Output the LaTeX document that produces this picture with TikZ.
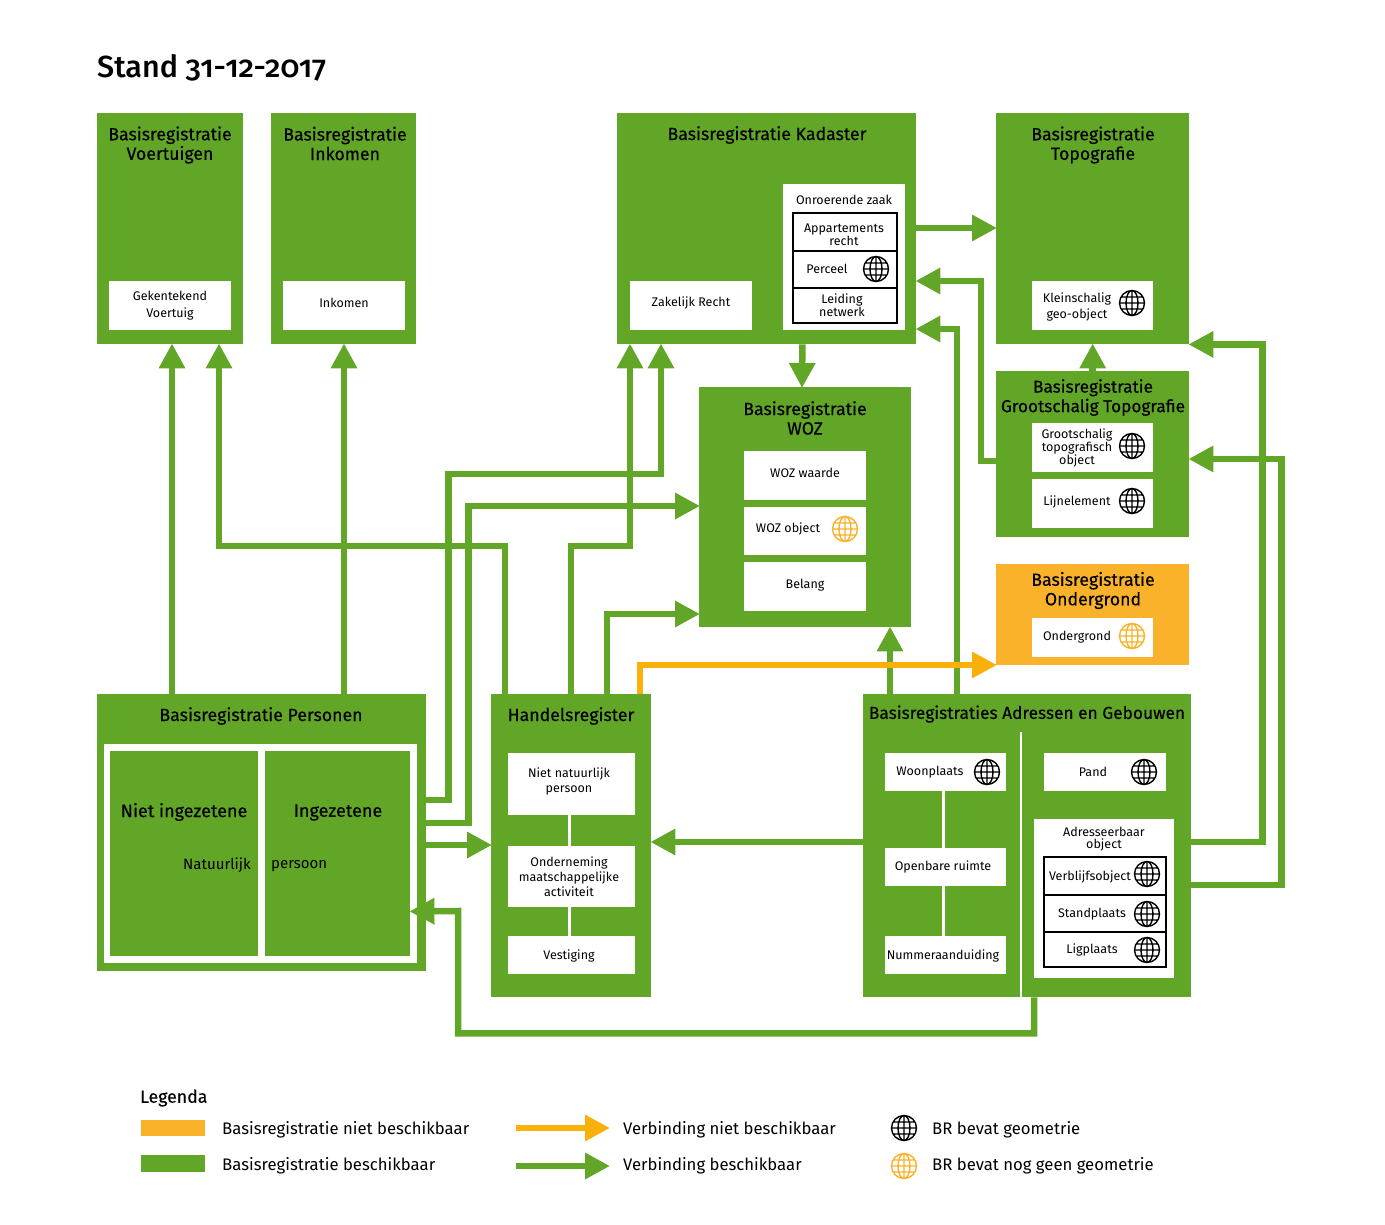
\documentclass[tikz,border=0pt]{standalone}
\usepackage{fontspec}
\setmainfont{Fira Sans}
\newfontfamily\titlefont[Numbers=OldStyle]{Fira Sans Medium}
\usetikzlibrary{arrows.meta}
\definecolor{brgreen}{RGB}{98,166,39}
\definecolor{brorange}{RGB}{249,178,42}
\definecolor{linkorange}{RGB}{250,176,10}
\tikzset{
  regbox/.style 2 args={fill=brgreen, anchor=north west, inner sep=0pt, minimum width=#1, minimum height=#2},
  whitebox/.style 2 args={fill=white, anchor=north west, inner sep=0pt, minimum width=#1, minimum height=#2},
  cellbox/.style 2 args={draw=black, line width=1.6pt, fill=white, anchor=north west, inner sep=0pt, outer sep=0pt, minimum width=#1, minimum height=#2},
  regtitle/.style={font=\fontsize{#1}{19.5}\selectfont\addfontfeature{FakeBold=0.3}, align=center, inner sep=0pt, yshift=-1pt},
  regtitle/.default=17.7,
  celltext/.style={font=\fontsize{12.5}{#1}\selectfont, align=center, inner sep=0pt, yshift=-1pt},
  celltext/.default=13,
  legendtext/.style={font=\fontsize{16.7}{20}\selectfont, anchor=west, inner sep=0pt, yshift=-2pt},
  link/.style={draw=brgreen, line width=6.5pt, shorten >=-1pt, -{Triangle[length=25pt,width=25pt]}},
  orangelink/.style={draw=linkorange, line width=6.5pt, shorten >=-1pt, -{Triangle[length=25pt,width=25pt]}},
  whiteline/.style={draw=white, line width=3pt},
  globe/.pic={
    \draw[line width=1.4pt, draw=#1] (0,0) circle (12.5) (0,0) ellipse (6 and 12.5)
      (0,-12.5) -- (0,12.5) (-12.5,0) -- (12.5,0) (-11,-6) -- (11,-6) (-11,6) -- (11,6);
  },
  globe/.default=black
}
\begin{document}
\begin{tikzpicture}[x=1pt,y=-1pt]
  \useasboundingbox (0,0) rectangle (1385,1225);
  \node[anchor=west, inner sep=0pt, font=\fontsize{30.5}{36}\selectfont\titlefont] (title) at (97,68) {Stand 31-12-2017};

  \node[regbox={146}{231}] (voertuigen) at (97,113) {};
  \node[regtitle] (voertuigentitle) at (170,144) {Basisregistratie\\Voertuigen};
  \node[whitebox={122}{49}] (kenteken) at (109,281) {};
  \node[celltext=17] (kentekentext) at (170,305) {Gekentekend\\Voertuig};

  \node[regbox={145}{231}] (inkomen) at (271,113) {};
  \node[regtitle] (inkomentitle) at (345,142.5) {Basisregistratie\\Inkomen};
  \node[whitebox={122}{49}] (inkomenbox) at (283,281) {};
  \node[celltext] (inkomentext) at (344,302) {Inkomen};

  \node[regbox={299}{231}] (kadaster) at (617,113) {};
  \node[regtitle] (kadastertitle) at (767,134) {Basisregistratie Kadaster};
  \node[whitebox={122}{49}] (recht) at (630,281) {};
  \node[celltext] (rechttext) at (691,302) {Zakelijk Recht};
  \node[whitebox={122}{146}] (onroerend) at (783,184) {};
  \node[celltext] (onroerendtext) at (844,199) {Onroerende zaak};
  \node[cellbox={104}{38}] (appartement) at (793,213) {};
  \node[celltext=12] (appartementtext) at (844,234) {Appartements\\recht};
  \node[cellbox={104}{37}] (perceel) at (793,251) {};
  \node[celltext] (perceeltext) at (827,268) {Perceel};
  \pic at (876,269) {globe};
  \node[cellbox={104}{35}] (leiding) at (793,288) {};
  \node[celltext=12] (leidingtext) at (842,304) {Leiding\\netwerk};

  \node[regbox={193}{231}] (topografie) at (996,113) {};
  \node[regtitle] (topografietitle) at (1093,144) {Basisregistratie\\Topografie};
  \node[whitebox={121}{49}] (klein) at (1032,281) {};
  \node[celltext=16] (kleintext) at (1077,306) {Kleinschalig\\geo-object};
  \pic at (1132,303) {globe};

  \node[regbox={193}{166}] (groot) at (996,371) {};
  \node[regtitle=17.2] (groottitle) at (1093,396.5) {Basisregistratie\\Grootschalig Topografie};
  \node[whitebox={121}{49}] (grootobject) at (1032,423) {};
  \node[celltext=13] (grootobjecttext) at (1077,447) {Grootschalig\\topografisch\\object};
  \pic at (1132,446) {globe};
  \node[whitebox={121}{49}] (lijn) at (1032,479) {};
  \node[celltext] (lijntext) at (1077,501) {Lijnelement};
  \pic at (1132,501) {globe};

  \node[regbox={212}{240}] (woz) at (699,387) {};
  \node[regtitle] (woztitle) at (805,417) {Basisregistratie\\WOZ};
  \node[whitebox={122}{49}] (waarde) at (744,451) {};
  \node[celltext] (waardetext) at (805,472) {WOZ waarde};
  \node[whitebox={122}{48}] (wozobject) at (744,507) {};
  \node[celltext] (wozobjecttext) at (788,528) {WOZ object};
  \pic at (845,529) {globe=brorange};
  \node[whitebox={122}{49}] (belang) at (744,562) {};
  \node[celltext] (belangtext) at (805,584) {Belang};

  \node[regbox={193}{101}, fill=brorange] (ondergrond) at (996,564) {};
  \node[regtitle] (ondergrondtitle) at (1093,589.5) {Basisregistratie\\Ondergrond};
  \node[whitebox={121}{39}] (ondergrondbox) at (1032,618) {};
  \node[celltext] (ondergrondtext) at (1077,636.5) {Ondergrond};
  \pic at (1132,636) {globe=brorange};

  \node[regbox={329}{277}] (personen) at (97,694) {};
  \node[regtitle] (personentitle) at (261,715) {Basisregistratie Personen};
  \node[whitebox={313}{219}] (personenframe) at (104,744) {};
  \node[regbox={148}{205}] (nietingezetene) at (110,751) {};
  \node[regbox={145}{205}] (ingezetene) at (265,751) {};
  \node[regtitle=18] (niettext) at (184,811) {Niet ingezetene};
  \node[regtitle=18] (ingezetenetext) at (338,811.5) {Ingezetene};
  \node[font=\fontsize{15}{18}\selectfont, inner sep=0pt, anchor=east] (natuurlijk) at (251,865) {Natuurlijk};
  \node[font=\fontsize{15}{18}\selectfont, inner sep=0pt, anchor=west] (persoon) at (271,866.5) {persoon};

  \node[regbox={160}{303}] (handel) at (491,694) {};
  \node[regtitle] (handeltitle) at (571,715) {Handelsregister};
  \node[whitebox={127}{62}] (nietnat) at (508,753) {};
  \node[celltext=15] (nietnattext) at (569,780) {Niet natuurlijk\\persoon};
  \node[whitebox={127}{61}] (onderneming) at (508,846) {};
  \node[celltext=15] (ondernemingtext) at (569,876) {Onderneming\\maatschappelijke\\activiteit};
  \node[whitebox={127}{38}] (vestiging) at (508,936) {};
  \node[celltext] (vestigingtext) at (569,955) {Vestiging};
  \draw[whiteline] ([xshift=-2]nietnat.south) -- ([xshift=-2]onderneming.north);
  \draw[whiteline] ([xshift=-2]onderneming.south) -- ([xshift=-2]vestiging.north);

  \node[regbox={328}{303}] (bag) at (863,694) {};
  \node[regtitle=17.3] (bagtitle) at (1027,713) {Basisregistraties Adressen en Gebouwen};
  \draw[whiteline, line width=2pt] (1021,732) -- (bag.south -| 1021,0);
  \node[whitebox={121}{38}] (woonplaats) at (885,753) {};
  \node[celltext] (woonplaatstext) at (930,771) {Woonplaats};
  \pic at (987,772) {globe};
  \node[whitebox={121}{38}] (openbaar) at (885,848) {};
  \node[celltext] (openbaartext) at (943,866) {Openbare ruimte};
  \node[whitebox={121}{38}] (nummer) at (885,936) {};
  \node[celltext] (nummertext) at (943,954.5) {Nummeraanduiding};
  \draw[whiteline] ([xshift=-2]woonplaats.south) -- ([xshift=-2]openbaar.north);
  \draw[whiteline] ([xshift=-2]openbaar.south) -- ([xshift=-2]nummer.north);
  \node[whitebox={122}{38}] (pand) at (1044,753) {};
  \node[celltext] (pandtext) at (1093,771) {Pand};
  \pic at (1144,772) {globe};
  \node[whitebox={140}{159}] (adres) at (1034,819) {};
  \node[celltext=12] (adrestext) at (1104,838) {Adresseerbaar\\object};
  \node[cellbox={122}{38}] (verblijf) at (1044,857) {};
  \node[celltext] (verblijftext) at (1090,875.5) {Verblijfsobject};
  \pic at (1147,874) {globe};
  \node[cellbox={122}{37}] (standplaats) at (1044,895) {};
  \node[celltext] (standplaatstext) at (1092,913.5) {Standplaats};
  \pic at (1147,914) {globe};
  \node[cellbox={122}{35}] (ligplaats) at (1044,932) {};
  \node[celltext] (ligplaatstext) at (1092,949) {Ligplaats};
  \pic at (1147,950) {globe};

  \draw[link] ([xshift=75]personen.north west) -- ([xshift=75]voertuigen.south west);
  \draw[link] ([xshift=73]inkomen.south west |- personen.north) -- ([xshift=73]inkomen.south west);
  \draw[link] ([xshift=14]handel.north west) -- ++(0,-148) -| ([xshift=122]voertuigen.south west);
  \draw[link] (handel.north) -- ++(0,-148) -| ([xshift=13]kadaster.south west);
  \draw[link] ([yshift=-106]personen.north east) -- ++(22,0) |- (540,474) -| ([xshift=44]kadaster.south west);
  \draw[link] ([yshift=-129]personen.north east) -- ++(42,0) |- ([yshift=-119]woz.north west);
  \draw[link] ([yshift=-151]personen.north east) -- ([yshift=-151]handel.north west);
  \draw[link] ([xshift=116]handel.north west) |- ([yshift=-227]woz.north west);
  \draw[link] ([xshift=191]woz.south west |- bag.north) -- ([xshift=191]woz.south west);
  \draw[link] ([xshift=-114]kadaster.south east) -- (woz.north -| 802,0);
  \draw[link] ([yshift=-115]kadaster.north east) -- ([yshift=-115]topografie.north west);
  \draw[link] (groot.north) -- (topografie.south);
  \draw[link] ([yshift=-90]groot.north west) -- ++(-15,0) |- ([yshift=-168]kadaster.north east);
  \draw[link] ([xshift=94]bag.north west) |- ([yshift=-216]kadaster.north east);
  \draw[link] ([yshift=-148]bag.north west) -- ([yshift=-148]handel.north east);
  \draw[link] ([yshift=-148]bag.north east) -- ++(71,0) |- (topografie.south east);
  \draw[link] ([yshift=-191]bag.north east) -- ++(90,0) |- ([yshift=-88]groot.north east);
  \draw[link] ([xshift=171]bag.south west) -- ++(0,36) -| (458,911) -- ([yshift=45]ingezetene.south east);
  \draw[orangelink] ([xshift=149]handel.north west) -- ++(0,-29) -- ([yshift=-101]ondergrond.north west);

  \node[regtitle, anchor=west] (legenda) at (140,1097) {Legenda};
  \node[regbox={64}{16}, fill=brorange] (legendorange) at (141,1120) {};
  \node[legendtext] (legendorangetext) at (222,1128) {Basisregistratie niet beschikbaar};
  \node[regbox={64}{17}] (legendgreen) at (141,1155) {};
  \node[legendtext] (legendgreentext) at (222,1164) {Basisregistratie beschikbaar};
  \coordinate (orangestart) at (516,1128);
  \coordinate (orangeend) at (609,1128);
  \coordinate (greenstart) at (516,1166);
  \coordinate (greenend) at (609,1166);
  \node[legendtext] (verbindingniet) at (623,1128) {Verbinding niet beschikbaar};
  \node[legendtext] (verbinding) at (623,1164) {Verbinding beschikbaar};
  \draw[orangelink] (orangestart) -- (orangeend);
  \draw[link] (greenstart) -- (greenend);
  \pic at (904,1128) {globe};
  \pic at (904,1166) {globe=brorange};
  \node[legendtext] (geometrie) at (932,1128) {BR bevat geometrie};
  \node[legendtext] (geengeometrie) at (932,1164) {BR bevat nog geen geometrie};
\end{tikzpicture}
\end{document}
